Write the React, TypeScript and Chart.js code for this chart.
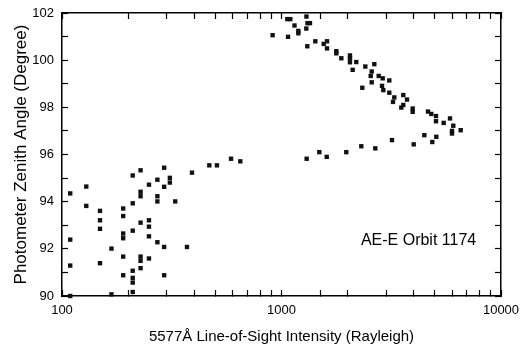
import React, { useEffect, useRef } from 'react';
import { Chart, registerables } from 'chart.js';

Chart.register(...registerables);

const FONT = '"Liberation Sans", Arial, Helvetica, sans-serif';

const xTickLabels = [100, 1000, 10000];
const yTickLabels = [90, 92, 94, 96, 98, 100, 102];

const xTitle = '5577Å Line-of-Sight Intensity (Rayleigh)';
const yTitle = 'Photometer Zenith Angle (Degree)';
const annotationText = 'AE-E Orbit 1174';
const annotationAt = [2300, 92.35];

// Low-intensity cluster
const lowX = [109, 129, 129, 109, 109, 109, 149, 149, 149, 149, 168, 168, 190, 190, 190, 190, 190, 190,
  210, 210, 210, 210, 210, 210, 210, 228, 228, 228, 228, 228, 228, 228, 249, 249, 249, 249, 249,
  272, 272, 272, 272, 292, 292, 292, 292, 310, 310, 328, 371, 391, 469, 508, 589, 649];
const lowY = [94.35, 94.64, 93.82, 92.39, 91.29, 90.0, 93.61, 93.21, 92.85, 91.39, 92.01, 90.07, 93.71, 93.39, 92.65, 92.45, 91.67, 90.88,
  95.11, 93.93, 92.77, 91.07, 90.77, 90.57, 90.17, 95.33, 94.42, 94.23, 93.11, 91.67, 91.49, 91.18, 94.72, 93.21, 92.94, 92.53, 91.59,
  94.93, 94.23, 94.01, 92.28, 95.44, 94.63, 92.08, 90.88, 95.01, 94.81, 94.01, 92.08, 95.23, 95.54, 95.54, 95.82, 95.71];

// Rising branch at higher intensity
const risingX = [1302, 1487, 1607, 1973, 2310, 2675, 3187, 4003, 4474, 4864, 5073];
const risingY = [95.82, 96.10, 95.90, 96.10, 96.35, 96.26, 96.61, 96.43, 96.82, 96.53, 96.75];

// Descending branch from the top
const descX = [911, 1063, 1097, 1299, 1146, 1193, 1193, 1071, 1313, 1348, 1297, 1311, 1426, 1557, 1612, 1612,
  1777, 1777, 1873, 2051, 2051, 2051, 2191, 2110, 2409, 2647, 2576, 2549, 2576, 2334, 2772, 2891, 3098,
  2870, 2910, 3098, 3265, 3221, 3588, 3731, 3588, 3514, 3960, 3960, 4650, 4814, 5057, 5057, 5482, 5857,
  6062, 5981, 5981, 6552];
const descY = [101.06, 101.74, 101.74, 101.85, 101.47, 101.24, 101.14, 100.99, 101.57, 101.57, 101.34, 100.59, 100.80, 100.69, 100.80, 100.50,
  100.38, 100.29, 100.08, 100.20, 100.08, 99.91, 99.92, 99.59, 99.73, 99.83, 99.52, 99.33, 99.06, 98.83, 99.33, 99.23, 99.14,
  98.91, 98.73, 98.62, 98.42, 98.23, 98.52, 98.33, 98.10, 97.99, 97.95, 97.81, 97.82, 97.72, 97.63, 97.41, 97.34, 97.53,
  97.22, 97.00, 96.89, 97.03];

const toPoints = (xs: number[], ys: number[]) => xs.map((x, i) => ({ x, y: ys[i] }));

const isLabelled = (v: number, list: number[]) => list.some((t) => Math.abs(t - v) < 1e-6 * Math.max(1, t));

const annotationPlugin = {
  id: 'orbitLabel',
  afterDatasetsDraw(chart: any) {
    const { ctx, scales } = chart;
    const x = scales.x.getPixelForValue(annotationAt[0]);
    const y = scales.y.getPixelForValue(annotationAt[1]);
    ctx.save();
    ctx.font = `16px ${FONT}`;
    ctx.fillStyle = '#000';
    ctx.textAlign = 'left';
    ctx.textBaseline = 'middle';
    ctx.fillText(annotationText, x, y);
    ctx.restore();
  },
};

export default function App() {
  const canvasRef = useRef<HTMLCanvasElement | null>(null);

  useEffect(() => {
    if (!canvasRef.current) return;
    const pointStyle = {
      pointStyle: 'rect' as const,
      pointRadius: 3.1,
      pointBorderWidth: 0,
      backgroundColor: '#111',
      borderColor: '#111',
      showLine: false,
      clip: false as any,
    };
    const axisGrid = {
      display: true,
      drawOnChartArea: false,
      drawTicks: true,
      tickLength: -6,
      tickColor: '#000',
      tickWidth: 1.2,
      color: '#000',
      lineWidth: 1,
    };
    const border = { display: true, color: '#000', width: 1.5 };
    const noPad = (s: any) => { s.paddingLeft = 0; s.paddingRight = 0; s.paddingTop = 0; s.paddingBottom = 0; };
    const chart = new Chart(canvasRef.current, {
      type: 'scatter',
      data: {
        datasets: [
          { label: 'low', data: toPoints(lowX, lowY), ...pointStyle },
          { label: 'rising', data: toPoints(risingX, risingY), ...pointStyle },
          { label: 'descending', data: toPoints(descX, descY), ...pointStyle },
        ],
      },
      options: {
        animation: false,
        responsive: false,
        maintainAspectRatio: false,
        layout: { padding: 0 },
        plugins: { legend: { display: false }, tooltip: { enabled: false } },
        scales: {
          x: {
            type: 'logarithmic',
            position: 'bottom',
            min: 100,
            max: 10000,
            border,
            grid: axisGrid,
            ticks: {
              autoSkip: false,
              maxRotation: 0,
              minRotation: 0,
              padding: 13,
              color: '#000',
              font: { family: FONT, size: 13 },
              callback: (v: any) => (isLabelled(Number(v), xTickLabels) ? String(Math.round(Number(v))) : ''),
            },
            title: {
              display: true,
              text: xTitle,
              color: '#000',
              font: { family: FONT, size: 15 },
              padding: { top: 0, bottom: 0 },
            },
            afterFit: (s: any) => { s.height = 50; noPad(s); },
          },
          x2: {
            type: 'logarithmic',
            position: 'top',
            min: 100,
            max: 10000,
            border,
            grid: axisGrid,
            ticks: { display: false, autoSkip: false },
            afterFit: (s: any) => { s.height = 13; noPad(s); },
          },
          y: {
            type: 'linear',
            position: 'left',
            min: 90,
            max: 102,
            border,
            grid: axisGrid,
            ticks: {
              stepSize: 1,
              autoSkip: false,
              padding: 14,
              color: '#000',
              font: { family: FONT, size: 13 },
              callback: (v: any) => (isLabelled(Number(v), yTickLabels) ? String(v) : ''),
            },
            title: {
              display: true,
              text: yTitle,
              color: '#000',
              font: { family: FONT, size: 17 },
              padding: { top: 11, bottom: 0 },
            },
            afterFit: (s: any) => { s.width = 62; noPad(s); },
          },
          y2: {
            type: 'linear',
            position: 'right',
            min: 90,
            max: 102,
            border,
            grid: axisGrid,
            ticks: { display: false, stepSize: 1 },
            afterFit: (s: any) => { s.width = 22; noPad(s); },
          },
        },
      } as any,
      plugins: [annotationPlugin],
    });
    return () => chart.destroy();
  }, []);

  return (
    <div style={{ position: 'fixed', left: 0, top: 0, width: 523, height: 346, background: '#fff' }}>
      <canvas ref={canvasRef} width={523} height={346} style={{ display: 'block', width: 523, height: 346 }} />
    </div>
  );
}
